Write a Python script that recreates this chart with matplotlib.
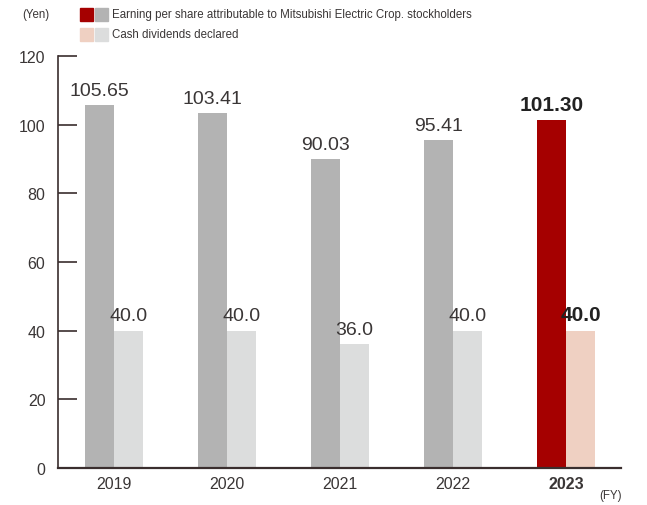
import numpy as np
import matplotlib
matplotlib.use('Agg')
import matplotlib.pyplot as plt
from matplotlib.patches import Rectangle

years = ['2019', '2020', '2021', '2022', '2023']
eps = [105.65, 103.41, 90.03, 95.41, 101.30]
dividends = [40.0, 40.0, 36.0, 40.0, 40.0]
eps_labels = ['105.65', '103.41', '90.03', '95.41', '101.30']
div_labels = ['40.0', '40.0', '36.0', '40.0', '40.0']
yticks = [0, 20, 40, 60, 80, 100, 120]

plt.rcParams['font.family'] = ['Liberation Sans', 'DejaVu Sans']

GRAY = '#b3b3b3'
LIGHT = '#dcdddd'
RED = '#a50000'
PINK = '#efd0c2'
AXIS = '#3a2e2e'
TXT = '#3a3636'

fig = plt.figure(figsize=(6.47, 5.06), dpi=100)
ax = fig.add_axes([58 / 647, 1 - 469 / 506, 563 / 647, 412 / 506])

x = np.arange(len(years))
w = 0.257
last = len(years) - 1
eps_colors = [GRAY] * last + [RED]
div_colors = [LIGHT] * last + [PINK]

ax.bar(x - w / 2, eps, w, color=eps_colors, zorder=2)
ax.bar(x + w / 2, dividends, w, color=div_colors, zorder=2)

for i in x:
    hi = i == last
    kw = dict(ha='center', va='bottom', fontsize=15 if hi else 14,
              color='#222222' if hi else TXT, fontweight='bold' if hi else 'normal')
    ax.text(i - w / 2, eps[i] + 1.8, eps_labels[i], **kw)
    ax.text(i + w / 2, dividends[i] + 1.8, div_labels[i], **kw)

ax.set_xlim(-0.496, 4.487)
ax.set_ylim(0, 120)
ax.set_yticks(yticks)
ax.set_xticks(x)
ax.set_xticklabels(years)
ax.get_xticklabels()[last].set_fontweight('bold')
ax.get_xticklabels()[last].set_color('#222222')

ax.spines['top'].set_visible(False)
ax.spines['right'].set_visible(False)
ax.spines['left'].set_color(AXIS)
ax.spines['bottom'].set_color(AXIS)
ax.spines['left'].set_linewidth(1.2)
ax.spines['bottom'].set_linewidth(1.6)
ax.tick_params(axis='y', direction='in', length=14, width=1.2, color=AXIS,
               labelsize=11.5, labelcolor=TXT, pad=9)
ax.tick_params(axis='x', length=0, labelsize=11.5, labelcolor=TXT, pad=6)

# header: unit and legend swatches
fig.text(22 / 647, 1 - 15 / 506, '(Yen)', fontsize=8.3, color=TXT, va='center')
sw = 13
rows = [(15, RED, GRAY, 'Earning per share attributable to Mitsubishi Electric Crop. stockholders'),
        (35, PINK, LIGHT, 'Cash dividends declared')]
for yc, c1, c2, label in rows:
    for x0, c in ((80, c1), (95, c2)):
        fig.patches.append(Rectangle((x0 / 647, 1 - (yc + sw / 2) / 506), sw / 647, sw / 506,
                                     transform=fig.transFigure, color=c))
    fig.text(112 / 647, 1 - yc / 506, label, fontsize=8.3, color=TXT, va='center')

fig.text(611 / 647, 1 - 496 / 506, '(FY)', fontsize=8.3, color=TXT, ha='center', va='center')

fig.savefig('out.png', dpi=100)
